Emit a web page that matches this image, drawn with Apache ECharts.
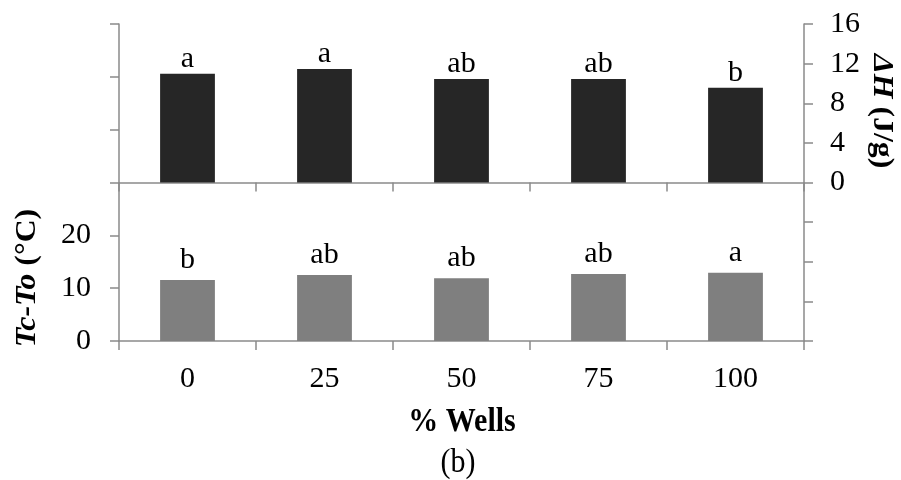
<!DOCTYPE html>
<html>
<head>
<meta charset="utf-8">
<script src="https://cdn.jsdelivr.net/npm/echarts@6/dist/echarts.min.js"></script>
<style>html,body{margin:0;padding:0;background:#fff;}#c{width:901px;height:480px;}</style>
</head>
<body>
<div id="c"></div>
<script>
const categories = ['0', '25', '50', '75', '100'];
const deltaH = [10.98, 11.45, 10.44, 10.44, 9.57];
const tcTo = [11.55, 12.5, 11.87, 12.69, 12.94];
const deltaHLetters = ['a', 'a', 'ab', 'ab', 'b'];
const tcToLetters = ['b', 'ab', 'ab', 'ab', 'a'];
const leftTickLabels = [0, 10, 20];
const rightTickLabels = [0, 4, 8, 12, 16];

const FONT = 'Liberation Serif';
const AXIS_COLOR = '#8a8a8a';

const chart = echarts.init(document.getElementById('c'), null, {renderer: 'canvas'});
const axisLine = {show: true, lineStyle: {color: AXIS_COLOR, width: 1.5}};
const tick = {show: true, length: 9, lineStyle: {color: AXIS_COLOR, width: 1.5}};

chart.setOption({
  animation: false,
  backgroundColor: '#fff',
  grid: {left: 119, right: 97, top: 24, bottom: 139, containLabel: false},
  xAxis: [
    {
      type: 'category', data: categories, position: 'bottom',
      axisLine: Object.assign({onZero: false}, axisLine),
      axisTick: Object.assign({interval: 0}, tick),
      axisLabel: {fontFamily: FONT, fontSize: 30, color: '#000', margin: 23}
    },
    {
      type: 'category', data: categories, position: 'bottom',
      axisLine: Object.assign({onZero: true, onZeroAxisIndex: 1}, axisLine),
      axisTick: Object.assign({interval: 0}, tick),
      axisLabel: {show: false}
    }
  ],
  yAxis: [
    {
      type: 'value', position: 'left', min: 0, max: 60, interval: 10,
      axisLine: axisLine, axisTick: tick, splitLine: {show: false},
      axisLabel: {fontFamily: FONT, fontSize: 30, color: '#000', margin: 28,
        formatter: v => leftTickLabels.indexOf(v) >= 0 ? String(v) : ''}
    },
    {
      type: 'value', position: 'right', min: -16, max: 16, interval: 4,
      axisLine: axisLine, axisTick: tick, splitLine: {show: false},
      axisLabel: {fontFamily: FONT, fontSize: 30, color: '#000', margin: 26,
        formatter: v => rightTickLabels.indexOf(v) >= 0 ? String(v) : ''}
    }
  ],
  series: [
    {
      name: 'Tc-To', type: 'bar', xAxisIndex: 0, yAxisIndex: 0,
      data: tcTo, barWidth: '40%', barGap: '-100%',
      itemStyle: {color: '#7f7f7f'},
      label: {show: true, position: 'top', distance: 5, fontFamily: FONT, fontSize: 30, color: '#000',
        formatter: p => tcToLetters[p.dataIndex]}
    },
    {
      name: 'ΔH', type: 'bar', xAxisIndex: 0, yAxisIndex: 1,
      data: deltaH, barWidth: '40%', barGap: '-100%',
      itemStyle: {color: '#262626'},
      label: {show: true, position: 'top', distance: 0, fontFamily: FONT, fontSize: 30, color: '#000',
        formatter: p => deltaHLetters[p.dataIndex]}
    }
  ],
  graphic: [
    {
      type: 'text', x: 27, y: 278, rotation: Math.PI / 2, scaleX: 1.06,
      style: {
        text: '{i|Tc-To} (°C)', fontFamily: FONT, fontSize: 30, fontWeight: 'bold', fill: '#000',
        align: 'center', verticalAlign: 'middle',
        rich: {i: {fontStyle: 'italic', fontWeight: 'bold', fontFamily: FONT, fontSize: 30, fill: '#000'}}
      }
    },
    {
      type: 'text', x: 882, y: 111, rotation: -Math.PI / 2, scaleX: 1.06,
      style: {
        text: '{i|ΔH} (J/g)', fontFamily: FONT, fontSize: 30, fontWeight: 'bold', fill: '#000',
        align: 'center', verticalAlign: 'middle',
        rich: {i: {fontStyle: 'italic', fontWeight: 'bold', fontFamily: FONT, fontSize: 30, fill: '#000'}}
      }
    },
    {
      type: 'text', x: 462, y: 422, scaleY: 1.1,
      style: {text: '% Wells', fontFamily: FONT, fontSize: 30, fontWeight: 'bold', fill: '#000',
        align: 'center', verticalAlign: 'middle'}
    },
    {
      type: 'text', x: 458, y: 463, scaleY: 1.1,
      style: {text: '(b)', fontFamily: FONT, fontSize: 30, fill: '#000',
        align: 'center', verticalAlign: 'middle'}
    }
  ]
});
</script>
</body>
</html>
